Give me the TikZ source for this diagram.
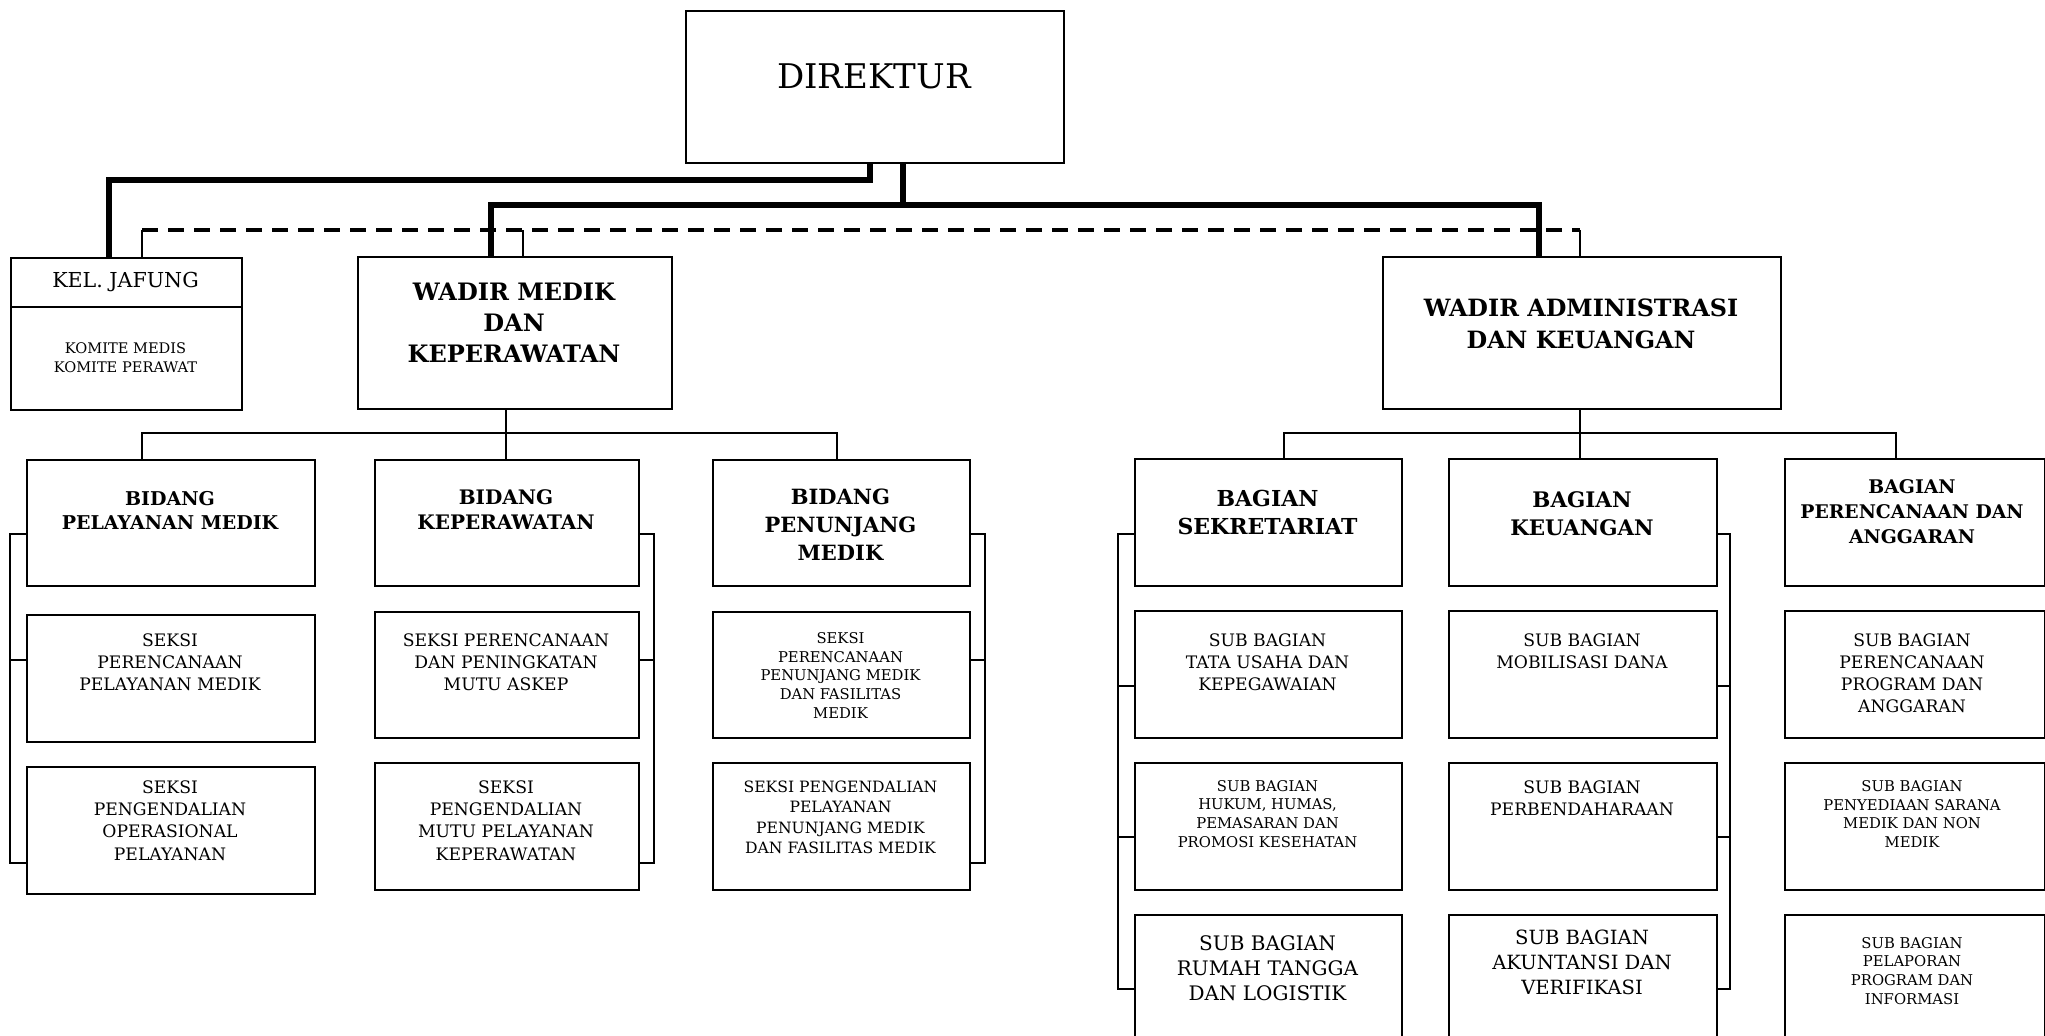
\documentclass[tikz,border=0pt]{standalone}
\usepackage{fontspec}
\setmainfont{DejaVu Serif}
\newcommand\fsz[2]{\fontsize{#1}{#2}\selectfont}
\begin{document}
\begin{tikzpicture}[x=0.5pt,y=-0.5pt,
  box/.style={draw, line width=0.8pt, inner sep=0pt, anchor=north west},
  txt/.style={align=center, inner sep=0pt},
  thickl/.style={line width=2.6pt},
  thinl/.style={line width=0.7pt},
  dashl/.style={line width=2pt, dash pattern=on 8pt off 5pt}]
\useasboundingbox (0,0) rectangle (2045,1036);
\clip (0,0) rectangle (2045,1036);
% top level
\node[box, minimum width=189pt, minimum height=76pt] (dir) at (685,10) {};
\node[txt, font=\fsz{17}{20}] (tdir) at (874,76) {DIREKTUR};
\node[box, minimum width=115.5pt, minimum height=76pt] (jaf) at (10,257) {};
\draw[line width=0.8pt] (jaf.west |- 0,307) -- (jaf.east |- 0,307);
\node[txt, font=\fsz{10.3}{12}] (tjaf) at (125.5,282) {KEL. JAFUNG};
\node[txt, font=\fsz{7.3}{9.5}] (tkom) at (125.5,357.5) {KOMITE MEDIS\\KOMITE PERAWAT};
\node[box, minimum width=157pt, minimum height=76pt] (wm) at (357,256) {};
\node[txt, font=\bfseries\fsz{12}{15.5}] (twm) at (514,323) {WADIR MEDIK\\DAN\\KEPERAWATAN};
\node[box, minimum width=199pt, minimum height=76pt] (wa) at (1382,256) {};
\node[txt, font=\bfseries\fsz{11.9}{16}] (twa) at (1581,324) {WADIR ADMINISTRASI\\DAN KEUANGAN};
% bidang
\node[box, minimum width=144pt, minimum height=63pt] (b1) at (26,459) {};
\node[txt, font=\bfseries\fsz{9.5}{12}] (tb1) at (170,510) {BIDANG\\PELAYANAN MEDIK};
\node[box, minimum width=132pt, minimum height=63pt] (b2) at (374,459) {};
\node[txt, font=\bfseries\fsz{10}{12.5}] (tb2) at (506,510) {BIDANG\\KEPERAWATAN};
\node[box, minimum width=128.5pt, minimum height=63pt] (b3) at (712,459) {};
\node[txt, font=\bfseries\fsz{10.5}{14}] (tb3) at (840.5,524.5) {BIDANG\\PENUNJANG\\MEDIK};
\node[box, minimum width=144pt, minimum height=63.5pt] (s11) at (26,614) {};
\node[txt, font=\fsz{8.6}{11}] (ts11) at (170,662) {SEKSI\\PERENCANAAN\\PELAYANAN MEDIK};
\node[box, minimum width=132pt, minimum height=63pt] (s21) at (374,611) {};
\node[txt, font=\fsz{8.6}{11}] (ts21) at (506,662) {SEKSI PERENCANAAN\\DAN PENINGKATAN\\MUTU ASKEP};
\node[box, minimum width=128.5pt, minimum height=63pt] (s31) at (712,611) {};
\node[txt, font=\fsz{7.4}{9.4}] (ts31) at (840.5,675.5) {SEKSI\\PERENCANAAN\\PENUNJANG MEDIK\\DAN FASILITAS\\MEDIK};
\node[box, minimum width=144pt, minimum height=63.5pt] (s12) at (26,766) {};
\node[txt, font=\fsz{8.6}{11.2}] (ts12) at (170,820.5) {SEKSI\\PENGENDALIAN\\OPERASIONAL\\PELAYANAN};
\node[box, minimum width=132pt, minimum height=63.5pt] (s22) at (374,762) {};
\node[txt, font=\fsz{8.6}{11.2}] (ts22) at (506,820.5) {SEKSI\\PENGENDALIAN\\MUTU PELAYANAN\\KEPERAWATAN};
\node[box, minimum width=128.5pt, minimum height=63.5pt] (s32) at (712,762) {};
\node[txt, font=\fsz{7.8}{10.25}] (ts32) at (840.5,817.5) {SEKSI PENGENDALIAN\\PELAYANAN\\PENUNJANG MEDIK\\DAN FASILITAS MEDIK};
% bagian
\node[box, minimum width=133.5pt, minimum height=63.5pt] (g1) at (1134,458) {};
\node[txt, font=\bfseries\fsz{11}{14}] (tg1) at (1267.5,512) {BAGIAN\\SEKRETARIAT};
\node[box, minimum width=134pt, minimum height=63.5pt] (g2) at (1448,458) {};
\node[txt, font=\bfseries\fsz{10.7}{14}] (tg2) at (1582,513.5) {BAGIAN\\KEUANGAN};
\node[box, minimum width=130pt, minimum height=63.5pt] (g3) at (1784,458) {};
\node[txt, font=\bfseries\fsz{9.4}{12.5}] (tg3) at (1912,512) {BAGIAN\\PERENCANAAN DAN\\ANGGARAN};
\node[box, minimum width=133.5pt, minimum height=63.5pt] (r11) at (1134,610) {};
\node[txt, font=\fsz{8.6}{11}] (tr11) at (1267.5,662) {SUB BAGIAN\\TATA USAHA DAN\\KEPEGAWAIAN};
\node[box, minimum width=134pt, minimum height=63.5pt] (r21) at (1448,610) {};
\node[txt, font=\fsz{8.6}{11}] (tr21) at (1582,651) {SUB BAGIAN\\MOBILISASI DANA};
\node[box, minimum width=130pt, minimum height=63.5pt] (r31) at (1784,610) {};
\node[txt, font=\fsz{8.6}{11}] (tr31) at (1912,673) {SUB BAGIAN\\PERENCANAAN\\PROGRAM DAN\\ANGGARAN};
\node[box, minimum width=133.5pt, minimum height=63.5pt] (r12) at (1134,762) {};
\node[txt, font=\fsz{7.4}{9.4}] (tr12) at (1267.5,814) {SUB BAGIAN\\HUKUM, HUMAS,\\PEMASARAN DAN\\PROMOSI KESEHATAN};
\node[box, minimum width=134pt, minimum height=63.5pt] (r22) at (1448,762) {};
\node[txt, font=\fsz{8.6}{11}] (tr22) at (1582,798) {SUB BAGIAN\\PERBENDAHARAAN};
\node[box, minimum width=130pt, minimum height=63.5pt] (r32) at (1784,762) {};
\node[txt, font=\fsz{7.4}{9.4}] (tr32) at (1912,814) {SUB BAGIAN\\PENYEDIAAN SARANA\\MEDIK DAN NON\\MEDIK};
\node[box, minimum width=133.5pt, minimum height=63.5pt] (r13) at (1134,914) {};
\node[txt, font=\fsz{10}{12.5}] (tr13) at (1267.5,968) {SUB BAGIAN\\RUMAH TANGGA\\DAN LOGISTIK};
\node[box, minimum width=134pt, minimum height=63.5pt] (r23) at (1448,914) {};
\node[txt, font=\fsz{9.8}{12.5}] (tr23) at (1582,962) {SUB BAGIAN\\AKUNTANSI DAN\\VERIFIKASI};
\node[box, minimum width=130pt, minimum height=63.5pt] (r33) at (1784,914) {};
\node[txt, font=\fsz{7.4}{9.4}] (tr33) at (1912,971) {SUB BAGIAN\\PELAPORAN\\PROGRAM DAN\\INFORMASI};
% thick connectors from direktur
\draw[thickl] (dir.south -| 870,0) -- (870,180) -- (109,180) -- (jaf.north -| 109,0);
\draw[thickl] (dir.south -| 903,0) -- (903,205);
\draw[thickl] (wm.north -| 491,0) -- (491,205) -- (1539,205) -- (wa.north -| 1539,0);
% dashed coordination line
\draw[dashl] (142,230) -- (1580,230);
\draw[thinl] (jaf.north -| 142,0) -- (142,230);
\draw[thinl] (wm.north -| 523,0) -- (523,230);
\draw[thinl] (wa.north -| 1580,0) -- (1580,230);
% wadir medik to bidang
\draw[thinl] (wm.south -| 506,0) -- (b2.north -| 506,0);
\draw[thinl] (b1.north -| 142,0) -- (142,433) -- (837,433) -- (b3.north -| 837,0);
% wadir adm to bagian
\draw[thinl] (wa.south -| 1580,0) -- (g2.north -| 1580,0);
\draw[thinl] (g1.north -| 1284,0) -- (1284,433) -- (1896,433) -- (g3.north -| 1896,0);
% brackets
\draw[thinl] (b1.west |- 0,534) -- (10,534) -- (10,863) -- (s12.west |- 0,863);
\draw[thinl] (10,660) -- (s11.west |- 0,660);
\draw[thinl] (b2.east |- 0,534) -- (654,534) -- (654,863) -- (s22.east |- 0,863);
\draw[thinl] (654,660) -- (s21.east |- 0,660);
\draw[thinl] (b3.east |- 0,534) -- (985,534) -- (985,863) -- (s32.east |- 0,863);
\draw[thinl] (985,660) -- (s31.east |- 0,660);
\draw[thinl] (g1.west |- 0,534) -- (1118,534) -- (1118,989) -- (r13.west |- 0,989);
\draw[thinl] (1118,686) -- (r11.west |- 0,686);
\draw[thinl] (1118,837) -- (r12.west |- 0,837);
\draw[thinl] (g2.east |- 0,534) -- (1730,534) -- (1730,989) -- (r23.east |- 0,989);
\draw[thinl] (1730,686) -- (r21.east |- 0,686);
\draw[thinl] (1730,837) -- (r22.east |- 0,837);
\end{tikzpicture}
\end{document}
